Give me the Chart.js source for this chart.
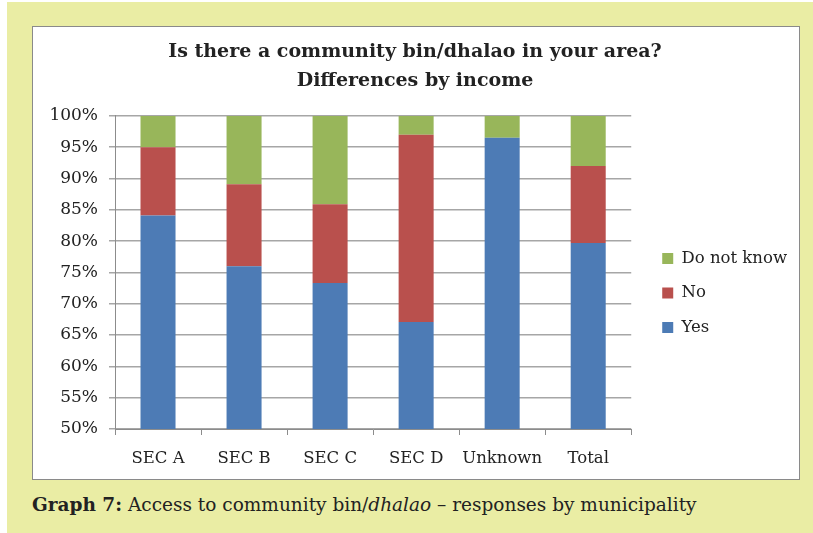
<!DOCTYPE html>
<html>
<head>
<meta charset="utf-8">
<script src="https://cdn.jsdelivr.net/npm/chart.js@4"></script>
<style>
  html, body { margin: 0; padding: 0; background: #fff; }
  body { width: 813px; height: 533px; position: relative; overflow: hidden; }
  #panel { position: absolute; left: 7px; top: 2px; width: 806px; height: 531px; background: #eaeda4; }
  #box { position: absolute; left: 32px; top: 26px; width: 766px; height: 452px; background: #fff; border: 1px solid #8a8a8a; }
  #caption { position: absolute; left: 32px; top: 494px; line-height: 22px; font-family: "DejaVu Serif", serif; font-size: 18.5px; color: #222; white-space: nowrap; }
</style>
</head>
<body>
<div id="panel"></div>
<div id="box"><canvas id="barChart" width="766" height="452"></canvas></div>
<div id="caption"><b>Graph 7:</b> Access to community bin/<i>dhalao</i> – responses by municipality</div>
<script>
// kelompok pendapatan dan persentase jawaban
const kategori = ['SEC A', 'SEC B', 'SEC C', 'SEC D', 'Unknown', 'Total'];
const ya = [84.1, 76.0, 73.3, 67.1, 96.5, 79.7];
const tidak = [10.9, 13.1, 12.6, 29.9, 0, 12.3];
const tidakTahu = [5.0, 10.9, 14.1, 3.0, 3.5, 8.0];
const tickY = [50, 55, 60, 65, 70, 75, 80, 85, 90, 95, 100];

const fontSerif = '"DejaVu Serif", serif';

const barData = {
    labels: kategori,
    datasets: [
        { label: 'Yes', data: ya, backgroundColor: '#4d7bb5' },
        { label: 'No', data: tidak, backgroundColor: '#b9504d' },
        { label: 'Do not know', data: tidakTahu, backgroundColor: '#98b65a' }
    ]
};

const config = {
    type: 'bar',
    data: barData,
    options: {
        responsive: false,
        animation: false,
        datasets: { bar: { categoryPercentage: 1, barPercentage: 0.407 } },
        layout: { padding: { left: 0, top: 0, bottom: 0, right: 2 } },
        scales: {
            x: {
                stacked: true,
                grid: { drawOnChartArea: false, drawTicks: true, tickLength: 6, offset: true, color: '#8c8c8c' },
                border: { color: '#8c8c8c' },
                ticks: { color: '#222', font: { family: fontSerif, size: 16.5 }, padding: 14 },
                afterFit: s => { s.height = 50; }
            },
            y: {
                stacked: true,
                min: 50,
                max: 100,
                grid: { color: '#a6a6a6', lineWidth: 1.5, tickLength: 6 },
                border: { color: '#8c8c8c' },
                afterBuildTicks: s => { s.ticks = tickY.map(v => ({ value: v })); },
                ticks: {
                    color: '#222',
                    font: { family: fontSerif, size: 17 },
                    padding: 11,
                    callback: v => v + '%'
                },
                afterFit: s => { s.width = 82; }
            },
            // ruang kosong antara plot dan legenda
            spasi: {
                type: 'linear',
                position: 'right',
                grid: { display: false },
                border: { display: false },
                ticks: { display: false },
                afterFit: s => { s.width = 13; }
            }
        },
        plugins: {
            title: {
                display: true,
                text: ['Is there a community bin/dhalao in your area?', 'Differences by income'],
                color: '#222',
                font: { family: fontSerif, size: 19, weight: 'bold', lineHeight: 1.55 },
                padding: { top: 10, bottom: 20 }
            },
            legend: {
                position: 'right',
                fullSize: false,
                reverse: true,
                maxWidth: 220,
                title: { display: true, text: ' ', font: { size: 10, lineHeight: 1.2 }, padding: { top: 0, bottom: 29 } },
                labels: {
                    boxWidth: 11,
                    boxHeight: 11,
                    padding: 18,
                    color: '#222',
                    font: { family: fontSerif, size: 16.5 }
                }
            },
            tooltip: { enabled: false }
        }
    }
};

var myBarChart = new Chart(document.getElementById('barChart'), config);
</script>
</body>
</html>
